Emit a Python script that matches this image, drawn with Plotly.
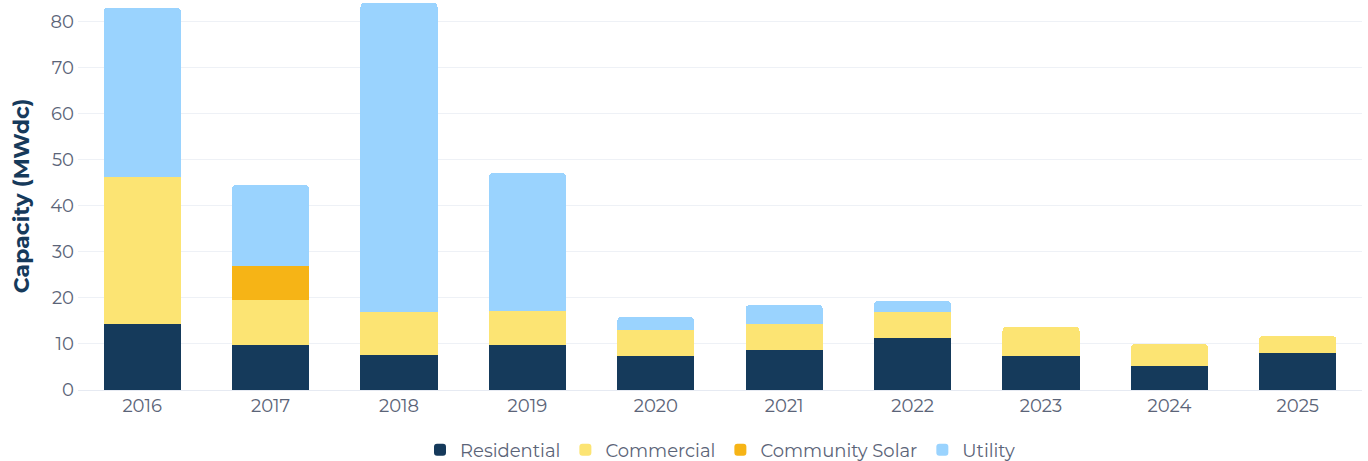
import plotly.graph_objects as go

years = ["2016", "2017", "2018", "2019", "2020", "2021", "2022", "2023", "2024", "2025"]
residential = [14.3, 9.8, 7.6, 9.8, 7.4, 8.7, 11.3, 7.4, 5.2, 8.0]
commercial = [31.9, 9.7, 9.3, 7.3, 5.6, 5.6, 5.6, 6.3, 4.8, 3.7]
community_solar = [0, 7.4, 0, 0, 0, 0, 0, 0, 0, 0]
utility = [36.7, 17.6, 67.1, 30.0, 2.8, 4.1, 2.4, 0, 0, 0]

series = [
    ("Residential", residential, "#153A5B"),
    ("Commercial", commercial, "#FCE473"),
    ("Community Solar", community_solar, "#F6B416"),
    ("Utility", utility, "#9AD3FE"),
]

font_family = "Montserrat, Open Sans, sans-serif"
fig = go.Figure()
for name, vals, color in series:
    fig.add_trace(go.Bar(
        x=years, y=vals, name=name,
        marker=dict(color=color, line=dict(width=0)),
    ))

fig.update_layout(
    barmode="stack",
    bargap=0.4,
    barcornerradius=4,
    width=1368, height=461,
    margin=dict(l=78, r=6, t=2, b=71, autoexpand=False),
    plot_bgcolor="white",
    paper_bgcolor="white",
    font=dict(family=font_family, size=18, color="#5b6478"),
    legend=dict(
        orientation="h", x=0.5, xanchor="center", y=-0.155, yanchor="middle",
        font=dict(size=18, color="#5b6478"), itemwidth=30, traceorder="normal",
    ),
    xaxis=dict(showgrid=False, showline=False, ticks="", automargin=False,
               ticklabelstandoff=3, tickfont=dict(size=18, color="#5b6478")),
    yaxis=dict(
        range=[0, 84.2], dtick=10, showgrid=True, gridcolor="#eef1f6", gridwidth=1,
        zeroline=True, zerolinecolor="#e6eaf2", zerolinewidth=1, automargin=False,
        tickfont=dict(size=18, color="#5b6478"), ticks="", ticklabelstandoff=3,
        title=dict(text="<b>Capacity (MWdc)</b>", font=dict(size=22, color="#163a5b"), standoff=14),
    ),
)

fig.write_html(
    "out.html",
    config={"displayModeBar": False},
    post_script="document.body.style.margin='0px';document.body.style.overflow='hidden';",
)
